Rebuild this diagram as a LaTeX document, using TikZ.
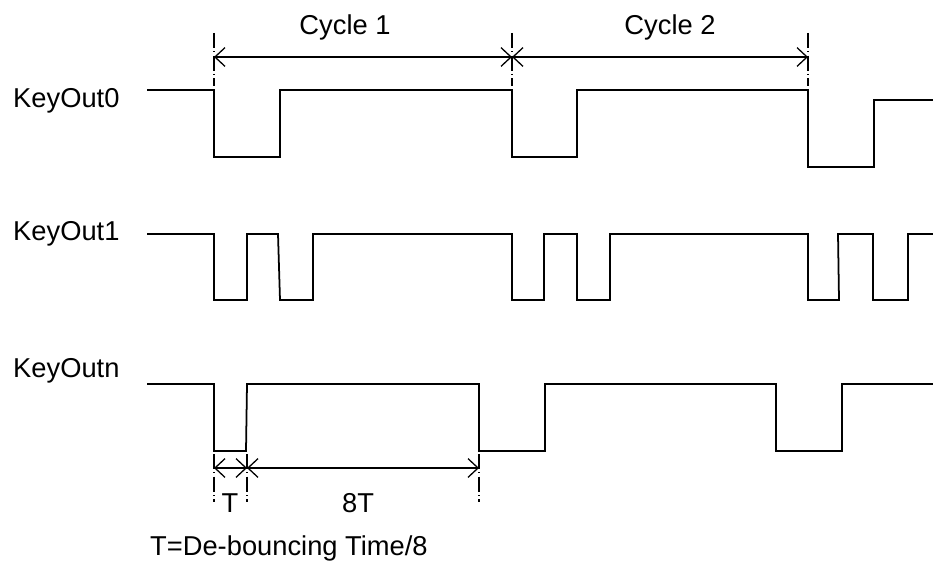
\documentclass[tikz,border=0pt]{standalone}
\usepackage{fontspec}
\setmainfont{Liberation Sans}
\usetikzlibrary{arrows.meta}
\tikzset{
	signal/.style={line width=1.5pt, line join=miter},
	dimline/.style={line width=1.1pt, {Straight Barb[length=0.3cm,width=0.56cm,line width=1.1pt]}-{Straight Barb[length=0.3cm,width=0.56cm,line width=1.1pt]}},
	extline/.style={line width=0.9pt, dash pattern=on 0.45cm off 0.1cm on 0.03cm off 0.1cm},
	lbl/.style={font=\fontsize{23.3}{27}\selectfont, inner sep=0pt}
}

\begin{document}
\begin{tikzpicture}[x=0.03cm, y=-0.03cm]
			%%%%% START %%%%%
			\useasboundingbox (0, 0) rectangle (933, 570);
			
			% signal names
			\node[lbl, anchor=base west] (out0) at (13, 108) {KeyOut0};
			\node[lbl, anchor=base west] (out1) at (13, 241) {KeyOut1};
			\node[lbl, anchor=base west] (outn) at (13, 377) {KeyOutn};
			
			% KeyOut0
			\draw[signal] (147, 90) -- (214, 90) -- (214, 157) -- (280, 157) -- (280, 90) -- (512, 90) -- (512, 157) -- (577, 157) -- (577, 90) -- (808, 90) -- (808, 167) -- (874, 167) -- (874, 100) -- (933, 100);
			
			% KeyOut1
			\draw[signal] (147, 234) -- (214, 234) -- (214, 300) -- (247, 300) -- (247, 234) -- (278, 234) -- (280, 300) -- (313, 300) -- (313, 234) -- (512, 234) -- (512, 300) -- (544, 300) -- (544, 234) -- (577, 234) -- (577, 300) -- (610, 300) -- (610, 234) -- (808, 234) -- (808, 300) -- (839, 300) -- (838, 234) -- (873, 234) -- (873, 300) -- (908, 300) -- (908, 234) -- (933, 234);
			
			% KeyOutn
			\draw[signal] (147, 384) -- (214, 384) -- (214, 451) -- (246, 451) -- (247, 384) -- (479, 384) -- (479, 451) -- (545, 451) -- (545, 384) -- (776, 384) -- (776, 451) -- (842, 451) -- (842, 384) -- (933, 384);
			
			% cycles
			\coordinate (c0) at (214, 57);
			\coordinate (c1) at (512, 57);
			\coordinate (c2) at (808, 57);
			\foreach \x in {214, 512, 808}
				\draw[extline] (\x, 33) -- (\x, 86);
			\draw[dimline] (c0) -- (c1);
			\draw[dimline] (c1) -- (c2);
			\node[lbl, anchor=base] (cyc1) at (345, 35) {Cycle 1};
			\node[lbl, anchor=base] (cyc2) at (670, 35) {Cycle 2};
			
			% de-bouncing
			\coordinate (d0) at (214, 468);
			\coordinate (d1) at (247, 468);
			\coordinate (d2) at (479, 468);
			\foreach \x in {214, 247, 479}
				\draw[extline] (\x, 454) -- (\x, 502);
			\draw[dimline] (d0) -- (d1);
			\draw[dimline] (d1) -- (d2);
			\node[lbl, anchor=base] (tlbl) at (230, 512) {T};
			\node[lbl, anchor=base] (ttlbl) at (358, 512) {8T};
			\node[lbl, anchor=base west] (note) at (150, 555) {T=De-bouncing Time/8};
			
			%%%%% END %%%%%
\end{tikzpicture}
\end{document}
